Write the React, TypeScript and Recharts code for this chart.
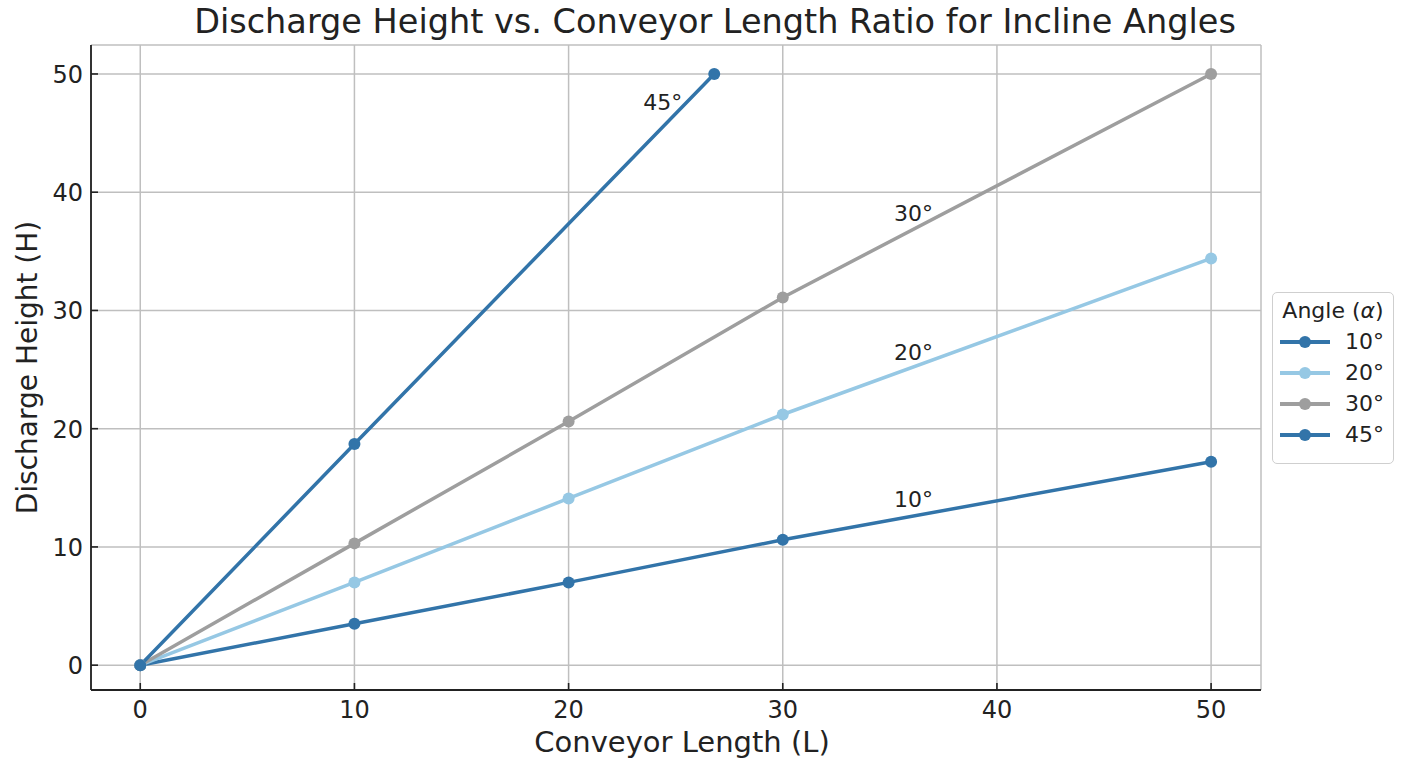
import { LineChart, Line, XAxis, YAxis, CartesianGrid, ReferenceDot } from "recharts";

const X_TICKS = [0, 10, 20, 30, 40, 50];
const Y_TICKS = [0, 10, 20, 30, 40, 50];

const LENGTHS = [0, 10, 20, 30, 50];
const LENGTHS_45 = [0, 10, 26.8];

const H_10 = [0, 3.5, 7.0, 10.6, 17.2];
const H_20 = [0, 7.0, 14.1, 21.2, 34.4];
const H_30 = [0, 10.3, 20.6, 31.1, 50.0];
const H_45 = [0, 18.7, 50.0];

const SERIES_NAMES = ["10°", "20°", "30°", "45°"];
const SERIES_COLORS = ["#3274A9", "#96C8E4", "#9E9E9E", "#3274A9"];

const ANNOTATIONS = [
    { text: "45°", x: 24.4, y: 47.6 },
    { text: "30°", x: 36.1, y: 38.2 },
    { text: "20°", x: 36.1, y: 26.5 },
    { text: "10°", x: 36.1, y: 14.0 },
];

const FONT = "'DejaVu Sans', sans-serif";
const INK = "#222222";

const toPoints = (xs: number[], ys: number[]) => xs.map((x, i) => ({ x, h: ys[i] }));

const series = [
    toPoints(LENGTHS, H_10),
    toPoints(LENGTHS, H_20),
    toPoints(LENGTHS, H_30),
    toPoints(LENGTHS_45, H_45),
];

function XTick({ x, y, payload }: any) {
    return (
        <g>
            <line x1={x} x2={x} y1={y} y2={y - 7} stroke={INK} strokeWidth={1.6} />
            <text x={x} y={y + 28} textAnchor="middle" fontSize={24} fill={INK} fontFamily={FONT}>
                {payload.value}
            </text>
        </g>
    );
}

function YTick({ x, y, payload }: any) {
    return (
        <g>
            <line x1={x} x2={x + 7} y1={y} y2={y} stroke={INK} strokeWidth={1.6} />
            <text x={x - 8} y={y + 9} textAnchor="end" fontSize={24} fill={INK} fontFamily={FONT}>
                {payload.value}
            </text>
        </g>
    );
}

function AngleLegend() {
    return (
        <div
            style={{
                position: "absolute",
                left: 1272,
                top: 292,
                width: 122,
                height: 172,
                border: "1.5px solid #cfcfcf",
                borderRadius: 5,
                background: "#fff",
                fontFamily: FONT,
                color: INK,
                padding: "5px 0 0 0",
                boxSizing: "border-box",
            }}
        >
            <div style={{ fontSize: 22, textAlign: "center", marginBottom: 3 }}>
                Angle (<i>α</i>)
            </div>
            {SERIES_NAMES.map((name, i) => (
                <div key={name} style={{ display: "flex", alignItems: "center", height: 31 }}>
                    <svg width={66} height={20} style={{ marginLeft: 6 }}>
                        <line x1={1} x2={51} y1={10} y2={10} stroke={SERIES_COLORS[i]} strokeWidth={4} />
                        <circle cx={26} cy={10} r={6} fill={SERIES_COLORS[i]} />
                    </svg>
                    <span style={{ fontSize: 22 }}>{name}</span>
                </div>
            ))}
        </div>
    );
}

export default function App() {
    return (
        <div style={{ position: "absolute", left: 0, top: 0, width: 1408, height: 768, background: "#fff" }}>
            <div
                style={{
                    position: "absolute",
                    left: 11,
                    top: 2,
                    width: 1408,
                    textAlign: "center",
                    fontFamily: FONT,
                    fontSize: 33.5,
                    color: INK,
                }}
            >
                Discharge Height vs. Conveyor Length Ratio for Incline Angles
            </div>
            <LineChart width={1408} height={768} margin={{ top: 45, right: 147, bottom: 18, left: 21 }}>
                <CartesianGrid stroke="#bfbfbf" strokeWidth={1.5} />
                <XAxis
                    dataKey="x"
                    type="number"
                    domain={[-2.3, 52.33]}
                    ticks={X_TICKS}
                    allowDataOverflow
                    height={60}
                    tickSize={0}
                    tickMargin={0}
                    tickLine={false}
                    axisLine={{ stroke: INK, strokeWidth: 1.8 }}
                    tick={<XTick />}
                    label={{
                        value: "Conveyor Length (L)",
                        position: "center",
                        dx: 6,
                        dy: 22,
                        fontSize: 29,
                        fill: INK,
                        fontFamily: FONT,
                    }}
                />
                <YAxis
                    type="number"
                    domain={[-2.1, 52.45]}
                    ticks={Y_TICKS}
                    allowDataOverflow
                    width={70}
                    tickSize={0}
                    tickMargin={0}
                    tickLine={false}
                    axisLine={{ stroke: INK, strokeWidth: 1.8 }}
                    tick={<YTick />}
                    label={{
                        value: "Discharge Height (H)",
                        angle: -90,
                        position: "center",
                        dx: -29,
                        fontSize: 28,
                        fill: INK,
                        fontFamily: FONT,
                    }}
                />
                {series.map((pts, i) => (
                    <Line
                        key={SERIES_NAMES[i]}
                        data={pts}
                        dataKey="h"
                        name={SERIES_NAMES[i]}
                        type="linear"
                        stroke={SERIES_COLORS[i]}
                        strokeWidth={3.5}
                        dot={{ r: 6, fill: SERIES_COLORS[i], stroke: "none" }}
                        activeDot={false}
                        isAnimationActive={false}
                    />
                ))}
                {ANNOTATIONS.map((a) => (
                    <ReferenceDot
                        key={a.text}
                        x={a.x}
                        y={a.y}
                        r={0}
                        fill="none"
                        stroke="none"
                        label={{ value: a.text, position: "center", fontSize: 22, fill: INK, fontFamily: FONT }}
                    />
                ))}
            </LineChart>
            <AngleLegend />
        </div>
    );
}
